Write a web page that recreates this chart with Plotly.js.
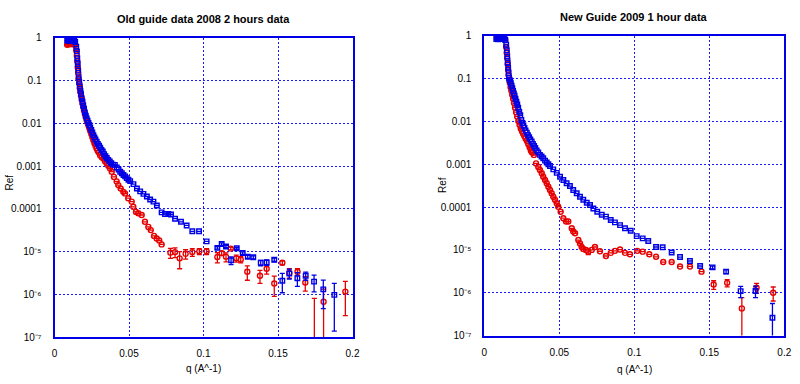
<!DOCTYPE html>
<html>
<head>
<meta charset="utf-8">
<script src="https://cdn.plot.ly/plotly-3.0.1.min.js"></script>
<style>html,body{margin:0;padding:0;background:#fff;}#chart{width:800px;height:384px;}</style>
</head>
<body>
<div id="chart"></div>
<script>
// ---------- Tick labels ----------
const xTickVals = [0, 0.05, 0.1, 0.15, 0.2];
const xTickText = ['0', '0.05', '0.1', '0.15', '0.2'];
const yTickVals = [1, 0.1, 0.01, 0.001, 0.0001, 1e-5, 1e-6, 1e-7];
const yTickText = ['1', '0.1', '0.01', '0.001', '0.0001', '10\u207B\u2075', '10\u207B\u2076', '10\u207B\u2077'];

// ---------- Left panel: Old guide data 2008 (blue squares) ----------
const oldBlueQ = [
  0.0085,0.0091,0.0097,0.0103,0.0109,0.0115,0.0121,0.0127,0.0133,0.0139,
  0.0146,0.0150,0.0153,0.0156,0.0159,0.0162,0.0166,0.0170,0.0174,0.0178,
  0.0183,0.0188,0.0193,0.0198,0.0204,0.0210,0.0216,0.0222,0.0228,0.0234,
  0.0240,0.0247,0.0254,0.0261,0.0268,0.0275,0.0283,0.0291,0.0299,0.0307,
  0.0315,0.0324,0.0333,0.0342,0.0351,0.0361,0.0371,0.0381,0.0392,0.0405,
  0.0418,0.0430,0.0441,0.0452,0.0463,0.0474,0.0485,0.0496,0.0508,0.0530,
  0.0553,0.0575,0.0597,0.0620,0.0642,0.0664,0.0687,0.0719,0.0742,0.0764,
  0.0782,0.0809,0.0849,0.0887,0.0925,0.0970,0.1021,0.1093,0.1122,0.1151,
  0.1185,0.1223,0.1263,0.1297,0.1334,0.1384,0.1424,0.1475,0.1529,0.1576,
  0.1630,0.1686,0.1742,0.1804,0.1878
];
const oldBlueR = [
  0.86,0.88,0.85,0.87,0.86,0.84,0.86,0.83,0.85,0.80,
  0.62,0.48,0.33,0.24,0.17,0.12,0.092,0.072,0.058,0.048,
  0.038,0.032,0.026,0.022,0.018,0.015,0.013,0.0115,0.0102,0.0091,
  0.0080,0.0070,0.0061,0.0053,0.0047,0.0042,0.0037,0.0033,0.0030,0.0027,
  0.0024,0.0022,0.0019,0.0017,0.00155,0.0014,0.00128,0.00117,0.00108,0.00107,
  0.00093,0.00083,0.00074,0.00068,0.00062,0.000575,0.000525,0.00048,0.000445,0.00038,
  0.00030,0.000257,0.000224,0.000195,0.000166,0.000148,0.00012,0.000083,0.000076,0.000076,
  0.000074,0.000059,0.000050,0.000041,0.000030,0.000030,0.0000174,0.0000123,0.0000151,0.0000132,
  6.3e-6,1.2e-5,9.3e-6,7.6e-6,7.4e-6,5.5e-6,5.6e-6,6.5e-6,2.1e-6,3.1e-6,
  2.4e-6,2.75e-6,2.0e-6,1.32e-6,9.8e-7
];
const oldBlueErr = [
  0,0,0,0,0,0,0,0,0,0,
  0,0,0,0,0,0,0,0,0,0,
  0,0,0,0,0,0,0,0,0,0,
  0,0,0,0,0,0,0,0,0,0,
  0,0,0,0,0,0,0,0,0,0,
  0,0,0,0,0,0,0,0,0,0,
  0,0,0,0,0,0,0,0,0,0,
  0,0,0,0,0,0,0,8e-7,1e-6,8e-7,
  1.3e-6,6e-7,6e-7,6e-7,6e-7,8e-7,8e-7,6e-7,1.0e-6,8e-7,
  8.5e-7,6e-7,8.5e-7,8.5e-7,8.4e-7
];

// ---------- Left panel: red circles ----------
const oldRedQ = [
  0.0085,0.0091,0.0097,0.0103,0.0109,0.0115,0.0121,0.0127,0.0133,0.0139,
  0.0146,0.0150,0.0153,0.0156,0.0159,0.0162,0.0166,0.0170,0.0174,0.0178,
  0.0183,0.0188,0.0193,0.0198,0.0204,0.0210,0.0216,0.0222,0.0228,0.0234,
  0.0240,0.0247,0.0254,0.0261,0.0268,0.0275,0.0282,0.0289,0.0296,0.0306,
  0.0317,0.0328,0.0339,0.0350,0.0361,0.0372,0.0384,0.0399,0.0417,0.0428,
  0.0444,0.0462,0.0473,0.0495,0.0518,0.0529,0.0547,0.0562,0.0585,0.0607,
  0.0630,0.0646,0.0668,0.0686,0.0703,0.0719,0.0778,0.0809,0.0840,0.0880,
  0.0925,0.0972,0.1021,0.1093,0.1122,0.1151,0.1183,0.1220,0.1250,0.1294,
  0.1379,0.1424,0.1475,0.1529,0.1576,0.1631,0.1683,0.1744,0.1806,0.1952
];
const oldRedR = [
  0.68,0.72,0.70,0.72,0.71,0.72,0.70,0.72,0.71,0.68,
  0.50,0.38,0.28,0.20,0.15,0.11,0.085,0.067,0.054,0.044,
  0.036,0.029,0.024,0.020,0.0165,0.014,0.012,0.0103,0.0089,0.0077,
  0.0066,0.0056,0.0047,0.0040,0.0034,0.0030,0.0026,0.0023,0.0021,0.0018,
  0.0016,0.0015,0.0013,0.00117,0.00102,0.00089,0.00074,0.00056,0.00044,0.00036,
  0.00030,0.00025,0.00023,0.000178,0.000148,0.000112,0.000085,0.000079,0.000072,0.000050,
  0.000038,0.000032,0.0000234,0.0000204,0.0000182,0.0000148,9.5e-6,9.8e-6,7.0e-6,8.9e-6,
  9.8e-6,1.02e-5,1.02e-5,7.5e-6,9.2e-6,7.6e-6,1.18e-5,7.0e-6,6.6e-6,3.4e-6,
  2.75e-6,4.0e-6,1.8e-6,5.5e-6,3.2e-6,3.4e-6,1.9e-6,5e-8,6.8e-7,1.17e-6
];
const oldRedErr = [
  0,0,0,0,0,0,0,0,0,0,
  0,0,0,0,0,0,0,0,0,0,
  0,0,0,0,0,0,0,0,0,0,
  0,0,0,0,0,0,0,0,0,0,
  0,0,0,0,0,0,0,0,0,0,
  0,0,0,0,0,0,0,0,0,0,
  0,0,0,0,0,0,2.5e-6,2.5e-6,3.0e-6,2.2e-6,
  2.0e-6,1.6e-6,1.6e-6,2.0e-6,1.0e-6,1.8e-6,8e-7,1.3e-6,1.1e-6,1.25e-6,
  9.3e-7,1.0e-6,9e-7,6e-7,8e-7,6e-7,7e-7,7.6e-7,6.5e-7,8.5e-7
];

// ---------- Right panel: New Guide 2009 (blue squares) ----------
const newBlueQ = [
  0.0080,0.0086,0.0092,0.0098,0.0104,0.0110,0.0116,0.0122,0.0128,0.0134,
  0.0140,0.0146,0.0150,0.0153,0.0156,0.0159,0.0162,0.0165,0.0169,0.0173,
  0.0177,0.0182,0.0187,0.0192,0.0197,0.0202,0.0208,0.0214,0.0220,0.0226,
  0.0233,0.0240,0.0247,0.0254,0.0261,0.0268,0.0275,0.0283,0.0291,0.0299,
  0.0307,0.0316,0.0324,0.0332,0.0340,0.0349,0.0360,0.0371,0.0382,0.0393,
  0.0405,0.0416,0.0427,0.0438,0.0460,0.0483,0.0505,0.0527,0.0549,0.0571,
  0.0593,0.0616,0.0638,0.0660,0.0683,0.0705,0.0727,0.0753,0.0783,0.0811,
  0.0843,0.0871,0.0905,0.0938,0.0976,0.1016,0.1056,0.1093,0.1145,0.1189,
  0.1249,0.1305,0.1371,0.1439,0.1522,0.1612,0.1709,0.1808,0.1921
];
const newBlueR = [
  0.84,0.86,0.83,0.85,0.84,0.86,0.85,0.88,0.90,0.87,
  0.80,0.62,0.46,0.33,0.24,0.18,0.135,0.105,0.095,0.086,
  0.078,0.069,0.060,0.052,0.045,0.040,0.034,0.029,0.025,0.021,
  0.0170,0.0140,0.0108,0.0092,0.0081,0.0071,0.0062,0.0055,0.0048,0.0043,
  0.0038,0.0034,0.0030,0.0027,0.0024,0.0021,0.0019,0.00166,0.00152,0.00138,
  0.00122,0.0011,0.00100,0.00091,0.00076,0.00063,0.00051,0.00043,0.00036,0.00031,
  0.00025,0.00021,0.000174,0.000148,0.000126,0.000112,0.000093,0.000078,0.000066,0.000060,
  0.000050,0.000044,0.000038,0.000032,0.000028,0.000021,0.0000186,0.0000162,0.0000117,0.0000115,
  8.7e-6,6.8e-6,5.5e-6,4.2e-6,3.9e-6,3.1e-6,1.09e-6,1.1e-6,2.6e-7
];
const newBlueErr = [
  0,0,0,0,0,0,0,0,0,0,
  0,0,0,0,0,0,0,0,0,0,
  0,0,0,0,0,0,0,0,0,0,
  0,0,0,0,0,0,0,0,0,0,
  0,0,0,0,0,0,0,0,0,0,
  0,0,0,0,0,0,0,0,0,0,
  0,0,0,0,0,0,0,0,0,0,
  0,0,0,0,0,0,0,0,0,0,
  0,0,0,0,3e-7,3e-7,3.2e-7,3.3e-7,3e-7
];

// ---------- Right panel: red circles ----------
const newRedQ = [
  0.0083,0.0088,0.0093,0.0098,0.0103,0.0108,0.0113,0.0118,0.0124,0.0131,
  0.0140,0.0146,0.0150,0.0153,0.0156,0.0159,0.0162,0.0166,0.0170,0.0175,
  0.0180,0.0186,0.0192,0.0198,0.0205,0.0212,0.0219,0.0227,0.0235,0.0243,
  0.0251,0.0259,0.0267,0.0275,0.0284,0.0293,0.0302,0.0310,0.0317,0.0323,
  0.0331,0.0345,0.0360,0.0371,0.0383,0.0393,0.0405,0.0416,0.0427,0.0438,
  0.0449,0.0460,0.0471,0.0483,0.0493,0.0509,0.0527,0.0545,0.0560,0.0583,
  0.0593,0.0605,0.0627,0.0638,0.0649,0.0660,0.0678,0.0693,0.0716,0.0738,
  0.0771,0.0811,0.0843,0.0871,0.0905,0.0938,0.0971,0.1020,0.1056,0.1100,
  0.1145,0.1193,0.1249,0.1305,0.1371,0.1448,0.1529,0.1619,0.1717,0.1815,
  0.1926
];
const newRedR = [
  0.97,0.98,0.97,0.98,0.97,0.98,0.97,0.98,0.97,0.96,
  0.80,0.55,0.40,0.30,0.22,0.16,0.12,0.095,0.080,0.063,
  0.052,0.042,0.034,0.027,0.021,0.0165,0.013,0.0103,0.0084,0.0069,
  0.0059,0.0052,0.0046,0.0040,0.0035,0.0030,0.0025,0.0021,0.0019,0.00186,
  0.00166,0.00105,0.00087,0.00074,0.00062,0.00051,0.00043,0.00036,0.00030,0.00025,
  0.00021,0.000174,0.000148,0.000123,0.000102,0.000078,0.000055,0.000046,0.000046,0.000032,
  0.000027,0.0000245,0.000017,0.0000141,0.0000117,0.0000105,0.0000100,0.0000091,0.0000100,0.0000117,
  9.3e-6,7.2e-6,8.5e-6,9.5e-6,1.02e-5,8.5e-6,7.9e-6,9.5e-6,9.1e-6,7.9e-6,
  6.9e-6,5.2e-6,5.2e-6,4.1e-6,4.1e-6,3.1e-6,1.55e-6,1.7e-6,4.3e-7,1.31e-6,
  1.0e-6
];
const newRedErr = [
  0,0,0,0,0,0,0,0,0,0,
  0,0,0,0,0,0,0,0,0,0,
  0,0,0,0,0,0,0,0,0,0,
  0,0,0,0,0,0,0,0,0,0,
  0,0,0,0,0,0,0,0,0,0,
  0,0,0,0,0,0,0,0,0,0,
  0,0,0,0,0,0,0,1.3e-6,0,0,
  0,0,0,0,0,0,0,0,0,0,
  0,0,0,0,0,0,3.5e-7,3.3e-7,3.4e-7,3.5e-7,
  3.6e-7
];

// ---------- Styling ----------
const RED = '#e60000';
const BLUE = '#0000e6';
const GRID = '#1a1aff';
const FONT = 'Liberation Sans, Arial, sans-serif';

function series(q, r, e, color, symbol, size, xa, ya) {
  return {
    type: 'scatter', mode: 'markers', x: q, y: r, xaxis: xa, yaxis: ya,
    hoverinfo: 'x+y', showlegend: false,
    marker: { symbol: symbol, size: size, color: color, line: { color: color, width: 1.4 } },
    error_y: { type: 'data', array: e, visible: true, color: color, thickness: 1.3, width: 2.5 }
  };
}

const data = [
  series(oldRedQ, oldRedR, oldRedErr, RED, 'circle-open', 5, 'x', 'y'),
  series(oldBlueQ, oldBlueR, oldBlueErr, BLUE, 'square-open', 4.5, 'x', 'y'),
  series(newRedQ, newRedR, newRedErr, RED, 'circle-open', 5, 'x2', 'y2'),
  series(newBlueQ, newBlueR, newBlueErr, BLUE, 'square-open', 4.5, 'x2', 'y2')
];

function xAxis(domain, anchor) {
  return {
    domain: domain, anchor: anchor, range: [0, 0.2],
    tickmode: 'array', tickvals: xTickVals, ticktext: xTickText,
    ticks: '', showgrid: true, gridcolor: GRID, griddash: '2px,2px', gridwidth: 1,
    showline: true, mirror: true, linecolor: BLUE, linewidth: 2, zeroline: false,
    tickfont: { family: FONT, size: 10, color: '#000' }, ticklabelstandoff: 6
  };
}
function yAxis(domain, anchor) {
  return {
    domain: domain, anchor: anchor, type: 'log', range: [-7, 0],
    tickmode: 'array', tickvals: yTickVals, ticktext: yTickText,
    ticks: '', showgrid: true, gridcolor: GRID, griddash: '2px,2px', gridwidth: 1,
    showline: true, mirror: true, linecolor: BLUE, linewidth: 2, zeroline: false,
    tickfont: { family: FONT, size: 10, color: '#000' }, ticklabelstandoff: 9
  };
}

const W = 800, H = 384;
const layout = {
  width: W, height: H,
  margin: { l: 0, r: 0, t: 0, b: 0 },
  paper_bgcolor: '#fff', plot_bgcolor: '#fff',
  showlegend: false,
  xaxis: xAxis([54.5 / W, 352.5 / W], 'y'),
  yaxis: yAxis([1 - 337.3 / H, 1 - 37.7 / H], 'x'),
  xaxis2: xAxis([484.3 / W, 784.3 / W], 'y2'),
  yaxis2: yAxis([1 - 335.5 / H, 1 - 35.9 / H], 'x2'),
  annotations: [
    { text: '<b>Old guide data 2008 2 hours data</b>', x: 203.5 / W, y: 1 - 19 / H, xref: 'paper', yref: 'paper',
      xanchor: 'center', yanchor: 'middle', showarrow: false, font: { family: FONT, size: 11, color: '#000' } },
    { text: '<b>New Guide 2009 1 hour data</b>', x: 634.3 / W, y: 1 - 17 / H, xref: 'paper', yref: 'paper',
      xanchor: 'center', yanchor: 'middle', showarrow: false, font: { family: FONT, size: 11, color: '#000' } },
    { text: 'q (A^-1)', x: 203.5 / W, y: 1 - 368 / H, xref: 'paper', yref: 'paper',
      xanchor: 'center', yanchor: 'middle', showarrow: false, font: { family: FONT, size: 10, color: '#000' } },
    { text: 'q (A^-1)', x: 634.3 / W, y: 1 - 369 / H, xref: 'paper', yref: 'paper',
      xanchor: 'center', yanchor: 'middle', showarrow: false, font: { family: FONT, size: 10, color: '#000' } },
    { text: 'Ref', x: 8.5 / W, y: 1 - 183 / H, xref: 'paper', yref: 'paper', textangle: -90,
      xanchor: 'center', yanchor: 'middle', showarrow: false, font: { family: FONT, size: 10, color: '#000' } },
    { text: 'Ref', x: 443 / W, y: 1 - 185 / H, xref: 'paper', yref: 'paper', textangle: -90,
      xanchor: 'center', yanchor: 'middle', showarrow: false, font: { family: FONT, size: 10, color: '#000' } }
  ]
};

Plotly.newPlot('chart', data, layout, { staticPlot: true, displayModeBar: false });
</script>
</body>
</html>
